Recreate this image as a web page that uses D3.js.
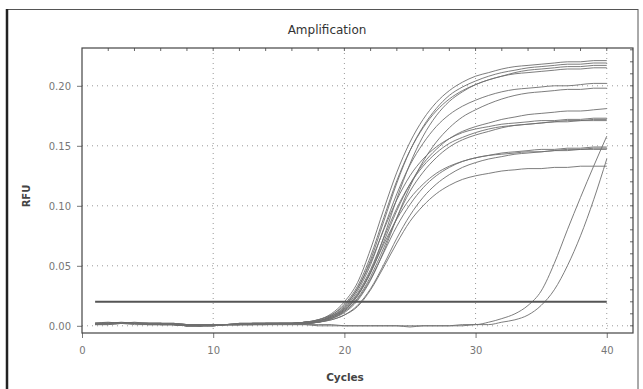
<!DOCTYPE html>
<html><head><meta charset="utf-8">
<script src="https://cdn.jsdelivr.net/npm/d3@7"></script>
<style>body{margin:0;background:#fff}svg{display:block}</style>
</head><body>
<svg id="c" width="643" height="389"></svg>
<script>
const cycles = d3.range(1, 41);
const xTicks = [0, 10, 20, 30, 40];
const yTicks = [0, 0.05, 0.10, 0.15, 0.20];
const yTickLabels = ["0.00", "0.05", "0.10", "0.15", "0.20"];
const threshold = 0.02;
const title = "Amplification";
const xLabel = "Cycles";
const yLabel = "RFU";

const c1 = [0.002,0.002,0.002,0.002,0.002,0.002,0.001,0.000,0.000,0.001,0.001,0.001,0.002,0.002,0.002,0.002,0.003,0.005,0.010,0.020,0.036,0.064,0.097,0.128,0.153,0.172,0.186,0.196,0.203,0.208,0.211,0.214,0.216,0.217,0.218,0.219,0.220,0.220,0.221,0.221];
const c2 = [0.002,0.002,0.003,0.002,0.002,0.002,0.002,0.001,0.000,0.001,0.001,0.002,0.002,0.002,0.002,0.002,0.003,0.004,0.008,0.016,0.031,0.055,0.087,0.119,0.146,0.166,0.181,0.192,0.199,0.204,0.208,0.211,0.213,0.215,0.216,0.217,0.218,0.218,0.219,0.219];
const c3 = [0.001,0.002,0.002,0.002,0.002,0.001,0.001,0.000,0.000,0.000,0.001,0.001,0.001,0.002,0.002,0.002,0.002,0.004,0.007,0.013,0.025,0.045,0.074,0.106,0.135,0.158,0.175,0.187,0.195,0.201,0.205,0.208,0.211,0.213,0.214,0.215,0.216,0.216,0.217,0.217];
const c4 = [0.002,0.003,0.002,0.002,0.002,0.002,0.002,0.001,0.001,0.001,0.001,0.002,0.002,0.002,0.002,0.002,0.003,0.005,0.009,0.018,0.033,0.058,0.090,0.121,0.146,0.165,0.179,0.189,0.196,0.201,0.205,0.208,0.210,0.211,0.212,0.213,0.214,0.214,0.215,0.215];
const c5 = [0.002,0.002,0.002,0.002,0.002,0.002,0.001,0.001,0.000,0.001,0.001,0.001,0.002,0.002,0.002,0.002,0.003,0.004,0.008,0.015,0.029,0.051,0.081,0.110,0.134,0.152,0.166,0.176,0.183,0.188,0.192,0.195,0.197,0.198,0.199,0.200,0.200,0.201,0.202,0.202];
const c6 = [0.001,0.001,0.002,0.002,0.001,0.001,0.001,0.000,0.000,0.000,0.001,0.001,0.001,0.001,0.002,0.002,0.002,0.003,0.006,0.011,0.021,0.038,0.062,0.090,0.116,0.137,0.153,0.165,0.174,0.180,0.185,0.189,0.192,0.194,0.195,0.196,0.197,0.197,0.198,0.198];
const c7 = [0.002,0.002,0.002,0.002,0.002,0.002,0.001,0.001,0.000,0.001,0.001,0.001,0.002,0.002,0.002,0.002,0.002,0.004,0.007,0.013,0.025,0.044,0.070,0.096,0.118,0.135,0.147,0.156,0.162,0.166,0.169,0.172,0.174,0.176,0.177,0.178,0.179,0.179,0.180,0.181];
const c8 = [0.002,0.002,0.002,0.003,0.002,0.002,0.002,0.001,0.001,0.001,0.001,0.002,0.002,0.002,0.002,0.002,0.003,0.005,0.009,0.017,0.031,0.053,0.080,0.105,0.125,0.139,0.149,0.156,0.161,0.164,0.166,0.168,0.169,0.170,0.171,0.171,0.172,0.172,0.173,0.173];
const c9 = [0.001,0.002,0.002,0.002,0.002,0.001,0.001,0.000,0.000,0.001,0.001,0.001,0.001,0.002,0.002,0.002,0.002,0.003,0.006,0.012,0.023,0.041,0.065,0.090,0.112,0.128,0.140,0.149,0.155,0.159,0.162,0.165,0.167,0.168,0.169,0.170,0.171,0.171,0.172,0.172];
const c10 = [0.002,0.002,0.002,0.002,0.002,0.002,0.001,0.001,0.001,0.001,0.001,0.001,0.002,0.002,0.002,0.002,0.003,0.004,0.008,0.014,0.027,0.047,0.073,0.098,0.118,0.133,0.144,0.152,0.157,0.161,0.164,0.166,0.167,0.168,0.169,0.170,0.170,0.171,0.171,0.171];
const c11 = [0.002,0.002,0.002,0.002,0.001,0.001,0.001,0.000,0.000,0.001,0.001,0.001,0.002,0.002,0.002,0.002,0.002,0.003,0.006,0.012,0.022,0.039,0.061,0.083,0.101,0.115,0.125,0.132,0.137,0.140,0.142,0.144,0.145,0.146,0.147,0.147,0.148,0.148,0.149,0.149];
const c12 = [0.001,0.001,0.002,0.002,0.002,0.001,0.001,0.000,0.000,0.000,0.001,0.001,0.001,0.001,0.002,0.002,0.002,0.003,0.005,0.009,0.017,0.031,0.051,0.073,0.092,0.107,0.118,0.126,0.132,0.136,0.139,0.141,0.143,0.144,0.145,0.146,0.147,0.147,0.148,0.148];
const c13 = [0.002,0.002,0.002,0.002,0.002,0.002,0.002,0.001,0.001,0.001,0.001,0.002,0.002,0.002,0.002,0.002,0.003,0.004,0.007,0.014,0.026,0.045,0.068,0.089,0.106,0.118,0.127,0.133,0.137,0.140,0.142,0.143,0.144,0.145,0.145,0.146,0.146,0.147,0.147,0.147];
const c14 = [0.002,0.002,0.002,0.001,0.001,0.001,0.001,0.000,0.000,0.000,0.001,0.001,0.001,0.002,0.002,0.002,0.002,0.003,0.005,0.009,0.016,0.030,0.049,0.069,0.087,0.100,0.110,0.117,0.122,0.125,0.127,0.129,0.130,0.131,0.131,0.132,0.132,0.133,0.133,0.133];
const late1 = [0.002,0.002,0.002,0.002,0.002,0.002,0.001,0.001,0.000,0.001,0.001,0.001,0.001,0.001,0.001,0.001,0.001,0.001,0.001,0.000,0.000,0.000,0.000,0.000,0.000,0.000,0.000,0.000,0.001,0.001,0.003,0.006,0.010,0.017,0.029,0.052,0.080,0.107,0.133,0.158];
const late2 = [0.001,0.002,0.002,0.002,0.001,0.001,0.001,0.000,0.000,0.000,0.001,0.001,0.001,0.001,0.001,0.001,0.001,0.000,0.000,0.000,0.000,0.000,0.000,0.000,-0.001,0.000,0.000,0.000,0.000,0.001,0.001,0.003,0.005,0.009,0.017,0.030,0.050,0.075,0.105,0.139];

const series = [c1,c2,c3,c4,c5,c6,c7,c8,c9,c10,c11,c12,c13,c14,late1,late2];

const svg = d3.select("#c");
const W = 643, H = 389;
const x = d3.scaleLinear().domain([0, 42]).range([82, 633]);
const y = d3.scaleLinear().domain([-0.006, 0.2315]).range([333, 48]);
const font = "'DejaVu Sans', Verdana, sans-serif";

// outer frame
svg.append("rect").attr("x", 7).attr("y", 9.5).attr("width", 631).attr("height", 390)
  .attr("fill", "none").attr("stroke", "#555").attr("stroke-width", 1);
svg.append("line").attr("x1", 7).attr("x2", 7).attr("y1", 9).attr("y2", H)
  .attr("stroke", "#222").attr("stroke-width", 2.5);

// title
svg.append("text").attr("x", 327).attr("y", 34).attr("text-anchor", "middle")
  .attr("font-family", font).attr("font-size", 12).attr("fill", "#333").text(title);

// grid
const grid = svg.append("g");
grid.selectAll("line.gx").data(xTicks.filter(d => d > 0)).join("line")
  .attr("x1", d => x(d)).attr("x2", d => x(d)).attr("y1", y.range()[1]).attr("y2", y.range()[0])
  .attr("stroke", "#999").attr("stroke-dasharray", "1,4");
grid.selectAll("line.gy").data(yTicks).join("line")
  .attr("x1", x.range()[0]).attr("x2", x.range()[1]).attr("y1", d => y(d)).attr("y2", d => y(d))
  .attr("stroke", "#999").attr("stroke-dasharray", "1,4");

// axes
const xAxis = d3.axisBottom(x).tickValues(xTicks).tickSize(5).tickPadding(9).tickFormat(d3.format("d"));
const gx = svg.append("g").attr("transform", `translate(0,${y.range()[0]})`).call(xAxis);
gx.select(".domain").remove();
gx.selectAll("line").attr("stroke", "#777");
gx.selectAll("text").attr("font-family", font).attr("font-size", 10).attr("fill", "#777");

const yAxis = d3.axisLeft(y).tickValues(yTicks).tickSize(5).tickPadding(6).tickFormat((d, i) => yTickLabels[i]);
const gy = svg.append("g").attr("transform", `translate(${x.range()[0]},0)`).call(yAxis);
gy.select(".domain").remove();
gy.selectAll("line").attr("stroke", "#777");
gy.selectAll("text").attr("font-family", font).attr("font-size", 10).attr("fill", "#777");

// minor ticks on right and top
const minorY = d3.range(0, 0.231, 0.01);
svg.append("g").selectAll("line").data(minorY).join("line")
  .attr("x1", x.range()[1] - 3).attr("x2", x.range()[1]).attr("y1", d => y(d)).attr("y2", d => y(d))
  .attr("stroke", "#666");
const minorX = d3.range(2, 42, 2);
svg.append("g").selectAll("line").data(minorX).join("line")
  .attr("x1", d => x(d)).attr("x2", d => x(d)).attr("y1", y.range()[1]).attr("y2", y.range()[1] + 3)
  .attr("stroke", "#666");

// axis labels
svg.append("text").attr("x", 345).attr("y", 381).attr("text-anchor", "middle")
  .attr("font-family", font).attr("font-size", 10.5).attr("font-weight", "bold").attr("fill", "#444").text(xLabel);
svg.append("text").attr("transform", "translate(30,196) rotate(-90)").attr("text-anchor", "middle")
  .attr("font-family", font).attr("font-size", 10).attr("font-weight", "bold").attr("fill", "#444").text(yLabel);

// curves
const line = d3.line().x((d, i) => x(cycles[i])).y(d => y(d)).curve(d3.curveMonotoneX);
svg.append("g").selectAll("path").data(series).join("path")
  .attr("d", line).attr("fill", "none").attr("stroke", "#6f6f6f").attr("stroke-width", 1).attr("stroke-opacity", 0.9);

// threshold
svg.append("line").attr("x1", x(1)).attr("x2", x(40)).attr("y1", y(threshold)).attr("y2", y(threshold))
  .attr("stroke", "#555").attr("stroke-width", 2);

// plot border
svg.append("rect").attr("x", x.range()[0]).attr("y", y.range()[1])
  .attr("width", x.range()[1] - x.range()[0]).attr("height", y.range()[0] - y.range()[1])
  .attr("fill", "none").attr("stroke", "#444").attr("stroke-width", 1.2);
</script>
</body></html>
